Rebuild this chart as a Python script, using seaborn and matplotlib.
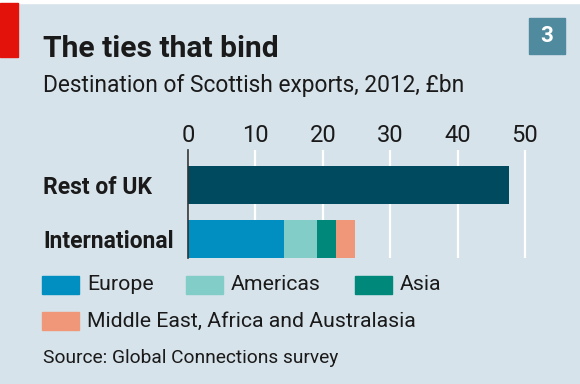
import numpy as np
import pandas as pd
import matplotlib.pyplot as plt
from matplotlib.patches import Rectangle
import seaborn as sns

# Data (£bn, 2012)
categories = ["Rest of UK", "International"]
rest_of_uk = [47.6]
regions = ["Europe", "Americas", "Asia", "Middle East, Africa and Australasia"]
region_values = [14.2, 5.0, 2.7, 2.9]
ticks = [0, 10, 20, 30, 40, 50]

uk_color = "#004a5f"
region_colors = ["#008fc0", "#83cdc8", "#00897b", "#f0977a"]
BG = "#d7e3ea"
FONT = ["Roboto", "DejaVu Sans"]

sns.set_style("white")
plt.rcParams["font.family"] = FONT
plt.rcParams["text.color"] = "#1a1a1a"

W, H = 580, 384
fig = plt.figure(figsize=(W / 100, H / 100), dpi=100, facecolor=BG)

def fx(px):
    return px / W

def fy(py):
    return 1 - py / H

ax = fig.add_axes([fx(188), fy(258), fx(560 - 188), (258 - 150) / H])
ax.set_facecolor("none")

# Rest of UK bar
uk_df = pd.DataFrame({"category": ["Rest of UK"], "value": rest_of_uk})
sns.barplot(data=uk_df, x="value", y="category", order=categories, orient="h",
            color=uk_color, width=0.71, saturation=1, linewidth=0, ax=ax, zorder=3)

# International, stacked: draw cumulative totals from the back
cum = np.cumsum(region_values)
for total, col in reversed(list(zip(cum, region_colors))):
    d = pd.DataFrame({"category": ["International"], "value": [total]})
    sns.barplot(data=d, x="value", y="category", order=categories, orient="h",
                color=col, width=0.71, saturation=1, linewidth=0, ax=ax, zorder=3)

ax.set_xlim(0, (560 - 188) / 6.74)
ax.set_ylim(1.364, -0.654)
ax.set_xticks(ticks)
ax.xaxis.tick_top()
ax.set_xlabel("")
ax.set_ylabel("")
ax.grid(axis="x", color="white", linewidth=1.6, zorder=1)
ax.grid(axis="y", visible=False)
ax.set_axisbelow(True)
for s in ["top", "right", "bottom"]:
    ax.spines[s].set_visible(False)
ax.spines["left"].set_color("#333333")
ax.spines["left"].set_linewidth(1.2)
ax.spines["left"].set_zorder(4)
ax.tick_params(axis="x", length=0, pad=2.5, labelsize=17, labelcolor="#1a1a1a")
ax.tick_params(axis="y", length=0, pad=(188 - 43) * 0.72, labelsize=16.5,
               labelcolor="#1a1a1a")
for lab in ax.get_yticklabels():
    lab.set_fontweight("bold")
    lab.set_horizontalalignment("left")

# Header decorations
fig.patches.append(Rectangle((0, fy(3)), 1, 3 / H, transform=fig.transFigure,
                             color="white", zorder=5))
fig.patches.append(Rectangle((0, fy(57)), fx(18), 54 / H, transform=fig.transFigure,
                             color="#e3120b", zorder=6))
fig.patches.append(Rectangle((fx(529), fy(54)), fx(36), 36 / H, transform=fig.transFigure,
                             color="#4f8a9f", zorder=5))
fig.text(fx(547), fy(36), "3", color="white", fontsize=16, fontweight="bold",
         ha="center", va="center", zorder=10)

fig.text(fx(43), fy(57), "The ties that bind", fontsize=21.6, fontweight="bold",
         va="baseline")
fig.text(fx(43), fy(92), "Destination of Scottish exports, 2012, £bn", fontsize=16.4,
         va="baseline")

# Legend
leg_pos = [(42, 285), (186, 285), (355, 285), (42, 321)]
for (lx, ly), name, col in zip(leg_pos, regions, region_colors):
    fig.patches.append(Rectangle((fx(lx), fy(ly + 9)), fx(37), 18 / H,
                                 transform=fig.transFigure, color=col))
    fig.text(fx(lx + 45), fy(ly), name, fontsize=15.3, va="center")

fig.text(fx(43), fy(358), "Source: Global Connections survey", fontsize=13.8,
         va="center")

fig.savefig("out.png", dpi=100, facecolor=BG)
